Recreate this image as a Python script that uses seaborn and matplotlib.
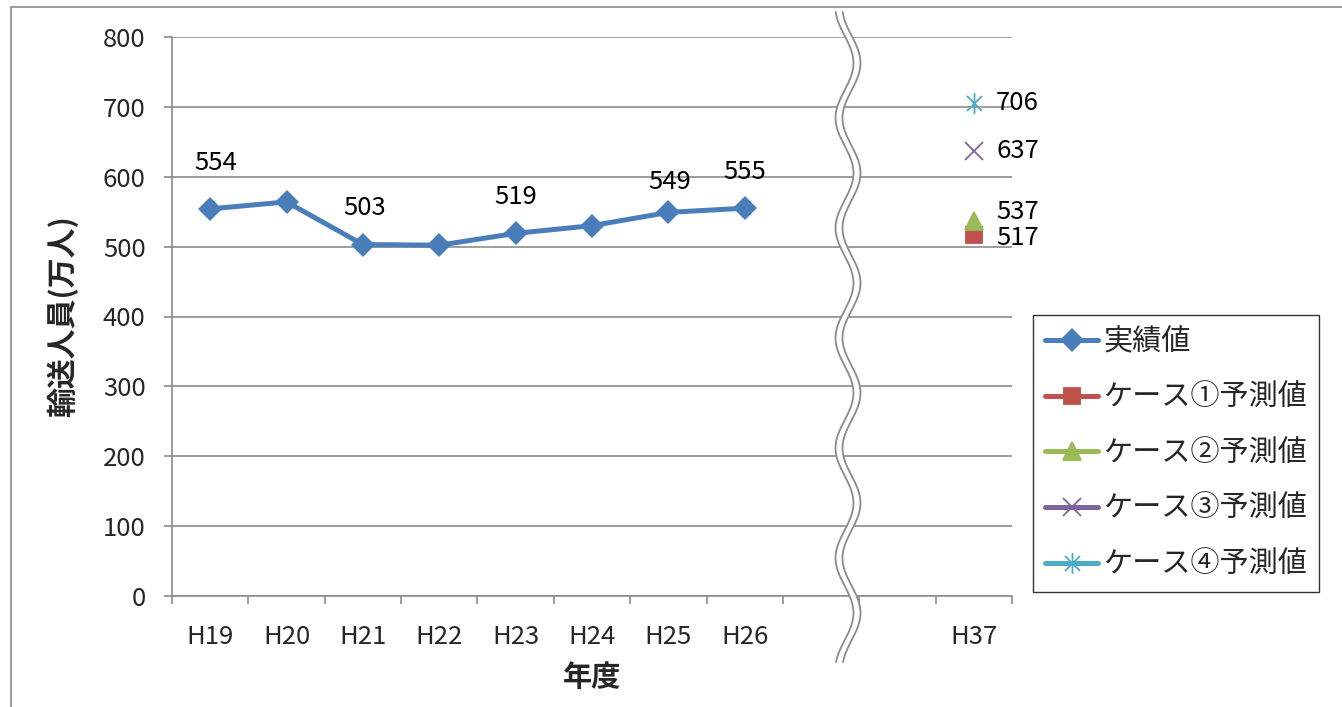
import numpy as np
import pandas as pd
import matplotlib
matplotlib.use("Agg")
import matplotlib.pyplot as plt
from matplotlib.lines import Line2D
from matplotlib.path import Path
from matplotlib.patches import Rectangle
import seaborn as sns

# --- data -------------------------------------------------------------
years_actual = ["H19", "H20", "H21", "H22", "H23", "H24", "H25", "H26"]
actual_values = [554, 564, 503, 502, 519, 530, 549, 555]
labeled_years = ["H19", "H21", "H23", "H25", "H26"]

forecast_year = "H37"
case_names = ["ケース①予測値", "ケース②予測値", "ケース③予測値", "ケース④予測値"]
case_values = [517, 537, 637, 706]

category_labels = years_actual + ["", "", forecast_year]
y_ticks = [0, 100, 200, 300, 400, 500, 600, 700, 800]

# --- style ------------------------------------------------------------
sns.set_theme(style="white")
plt.rcParams["font.family"] = ["Noto Sans CJK JP", "DejaVu Sans"]

W, H = 1342, 707
fig = plt.figure(figsize=(W / 100, H / 100), dpi=100)
ax = fig.add_axes([172 / W, (H - 596) / H, 840 / W, 559 / H])

BLUE = "#4A7EBB"
case_colors = ["#C0504D", "#9BBB59", "#8064A2", "#4BACC6"]
GRID = "#8C8C8C"
NUM_FS = 18.5

# asterisk marker: vertical stroke plus an x
star_path = Path(
    [(0, -1), (0, 1), (-0.72, -0.72), (0.72, 0.72), (-0.72, 0.72), (0.72, -0.72)],
    [Path.MOVETO, Path.LINETO, Path.MOVETO, Path.LINETO, Path.MOVETO, Path.LINETO],
)
case_markers = ["s", "^", "x", star_path]
case_sizes = [12, 13, 13, 15]

pos = {lab: i for i, lab in enumerate(category_labels) if lab}

df_actual = pd.DataFrame({"x": [pos[y] for y in years_actual], "y": actual_values})
sns.lineplot(data=df_actual, x="x", y="y", ax=ax, color=BLUE, lw=3.6,
             marker="D", markersize=12.5, markeredgewidth=0, zorder=4)

for name, val, col, mk, ms in zip(case_names, case_values, case_colors,
                                  case_markers, case_sizes):
    df_c = pd.DataFrame({"x": [pos[forecast_year]], "y": [val]})
    sns.lineplot(data=df_c, x="x", y="y", ax=ax, color=col, marker=mk,
                 markersize=ms, markeredgewidth=1.3, markeredgecolor=col,
                 lw=0, zorder=4)

# data labels
label_offsets = {"H19": (4, 33), "H21": (1, 26), "H23": (0, 26),
                 "H25": (1, 22), "H26": (0, 26)}
for yr, v in zip(years_actual, actual_values):
    if yr in labeled_years:
        ax.annotate(str(v), (pos[yr], v), xytext=label_offsets[yr],
                    textcoords="offset points", ha="center", va="center",
                    fontsize=NUM_FS, color="black")

case_label_dy = [-2, 6, 0, 0]
for v, dy in zip(case_values, case_label_dy):
    ax.annotate(str(v), (pos[forecast_year], v), xytext=(16, dy),
                textcoords="offset points", ha="left", va="center",
                fontsize=NUM_FS, color="black")

# axes
ax.set_xlim(-0.5, len(category_labels) - 0.5)
ax.set_ylim(0, 800)
ax.set_yticks(y_ticks)
ax.set_yticklabels([str(t) for t in y_ticks], fontsize=NUM_FS)
ax.yaxis.grid(True, color=GRID, lw=1.2)
ax.set_axisbelow(True)

ax.set_xticks(np.arange(-0.5, len(category_labels), 1.0))
ax.set_xticklabels([])
ax.set_xticks(range(len(category_labels)), minor=True)
ax.set_xticklabels(category_labels, minor=True, fontsize=NUM_FS)
ax.tick_params(axis="x", which="major", direction="out", length=6,
               width=1.2, color=GRID, bottom=True)
ax.tick_params(axis="x", which="minor", length=0, pad=20)
ax.tick_params(axis="y", direction="out", length=6, width=1.2, color=GRID,
               left=True, pad=13)

for s in ["top", "right"]:
    ax.spines[s].set_visible(False)
for s in ["left", "bottom"]:
    ax.spines[s].set_color(GRID)
    ax.spines[s].set_linewidth(1.2)

ax.set_xlabel("年度", fontsize=21, fontweight="bold")
ax.xaxis.set_label_coords(0.5, -0.118)
ax.set_ylabel("輸送人員(万人)", fontsize=21.5, fontweight="bold")
ax.yaxis.set_label_coords(-0.112, 0.5)

# legend
handles = [Line2D([], [], color=BLUE, lw=3.6, marker="D", markersize=12.5,
                  markeredgewidth=0)]
for col, mk, ms in zip(case_colors, case_markers, case_sizes):
    handles.append(Line2D([], [], color=col, lw=3.6, marker=mk, markersize=ms,
                          markeredgewidth=1.3, markeredgecolor=col))
leg = fig.legend(handles, ["実績値"] + case_names, loc="upper left",
                 bbox_to_anchor=(1033 / W, (H - 315) / H), fontsize=21,
                 frameon=True, fancybox=False, edgecolor="black",
                 handlelength=1.8, handletextpad=0.18, labelspacing=0.88,
                 borderpad=0.42, borderaxespad=0)
leg.get_frame().set_linewidth(1.0)

# axis break: double wavy line with a white band between
tt = np.linspace(12, 662, 600)
xc = 848 + 9 * np.sin(2 * np.pi * (tt - 63) / 110 + np.pi / 2)
fx = lambda px: px / W
fy = lambda py: (H - py) / H
ax_band = fig.add_axes([0, 0, 1, 1], facecolor="none")
ax_band.set_xlim(0, W)
ax_band.set_ylim(H, 0)
ax_band.axis("off")
ax_band.fill_betweenx(tt, xc - 3.5, xc + 3.5, color="white", lw=0, zorder=5)
ax_band.plot(xc - 3.5, tt, color="#8A8A8A", lw=1.3, zorder=6)
ax_band.plot(xc + 3.5, tt, color="#8A8A8A", lw=1.3, zorder=6)

# chart area frame
fig.patches.append(Rectangle((fx(11), fy(1000)), fx(1400), fy(7) - fy(1000),
                             transform=fig.transFigure, fill=False,
                             edgecolor="#8C8C8C", lw=1.2))

fig.savefig("out.png", dpi=100)
